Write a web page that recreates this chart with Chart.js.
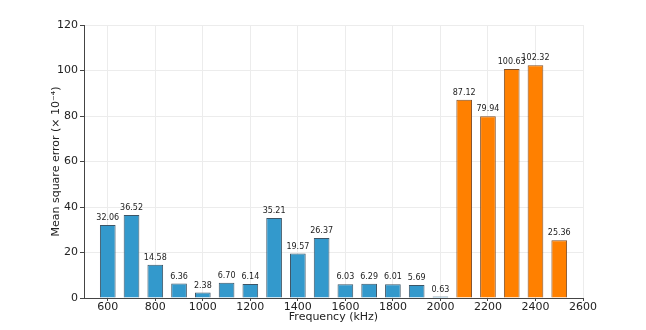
<!DOCTYPE html>
<html>
<head>
<meta charset="utf-8">
<script src="https://cdn.jsdelivr.net/npm/chart.js@4"></script>
<style>
  html, body { margin: 0; padding: 0; background: #fff; }
  #wrap { width: 646px; height: 330px; }
</style>
</head>
<body>
<div id="wrap"><canvas id="mychart" width="646" height="330"></canvas></div>
<script>
// frequencies (kHz) and mean square errors (x 1e-4)
var freqLow = [600, 700, 800, 900, 1000, 1100, 1200, 1300, 1400, 1500, 1600, 1700, 1800, 1900, 2000];
var errLow = [32.06, 36.52, 14.58, 6.36, 2.38, 6.70, 6.14, 35.21, 19.57, 26.37, 6.03, 6.29, 6.01, 5.69, 0.63];
var freqHigh = [2100, 2200, 2300, 2400, 2500];
var errHigh = [87.12, 79.94, 100.63, 102.32, 25.36];
var xTicks = [600, 800, 1000, 1200, 1400, 1600, 1800, 2000, 2200, 2400, 2600];

function points(xs, ys) {
    return xs.map(function(x, i) { return { x: x, y: ys[i] }; });
}

var font = "'DejaVu Sans', sans-serif";

// writes the value above each bar
var barLabels = {
    id: 'barLabels',
    afterDatasetsDraw: function(chart) {
        var ctx = chart.ctx;
        ctx.save();
        ctx.font = "8px " + font;
        ctx.fillStyle = '#222';
        ctx.textAlign = 'center';
        ctx.textBaseline = 'bottom';
        chart.data.datasets.forEach(function(ds, i) {
            chart.getDatasetMeta(i).data.forEach(function(bar, j) {
                ctx.fillText(ds.data[j].y.toFixed(2), bar.x, bar.y - 3);
            });
        });
        ctx.restore();
    }
};

window.addEventListener("load", function() {
    var canvas = document.getElementById("mychart").getContext("2d");
    new Chart(canvas, {
        type: 'bar',
        data: {
            datasets: [{
                data: points(freqLow, errLow),
                backgroundColor: '#3399cc',
                borderColor: '#3d5566',
                borderWidth: 1,
                grouped: false,
                barPercentage: 0.66,
                categoryPercentage: 1
            }, {
                data: points(freqHigh, errHigh),
                backgroundColor: '#ff8000',
                borderColor: '#80502a',
                borderWidth: 1,
                grouped: false,
                barPercentage: 0.66,
                categoryPercentage: 1
            }]
        },
        options: {
            responsive: false,
            animation: false,
            layout: { padding: { left: 0, right: 63, top: 25, bottom: 0 } },
            plugins: { legend: { display: false }, tooltip: { enabled: false } },
            scales: {
                x: {
                    type: 'linear',
                    min: 500,
                    max: 2600,
                    offset: false,
                    afterBuildTicks: function(scale) {
                        scale.ticks = xTicks.map(function(v) { return { value: v }; });
                    },
                    afterFit: function(scale) { scale.height = 32; },
                    grid: { offset: false, color: '#ececec', tickLength: 3, tickColor: '#444' },
                    border: { color: '#444' },
                    ticks: {
                        color: '#222', font: { family: font, size: 11 }, padding: 0, maxRotation: 0, autoSkip: false,
                        callback: function(v) { return String(v); }
                    },
                    title: { display: true, text: 'Frequency (kHz)', color: '#222', font: { family: font, size: 11 }, padding: { top: 0, bottom: 6 } }
                },
                y: {
                    min: 0,
                    max: 120,
                    afterFit: function(scale) { scale.width = 84; },
                    grid: { color: '#ececec', tickLength: 4, tickColor: '#444' },
                    border: { color: '#444' },
                    ticks: { stepSize: 20, color: '#222', font: { family: font, size: 11 }, padding: 2 },
                    title: { display: true, text: 'Mean square error (× 10⁻⁴)', color: '#222', font: { family: font, size: 11 }, padding: { top: 50, bottom: 0 } }
                }
            }
        },
        plugins: [barLabels]
    });
});
</script>
</body>
</html>
